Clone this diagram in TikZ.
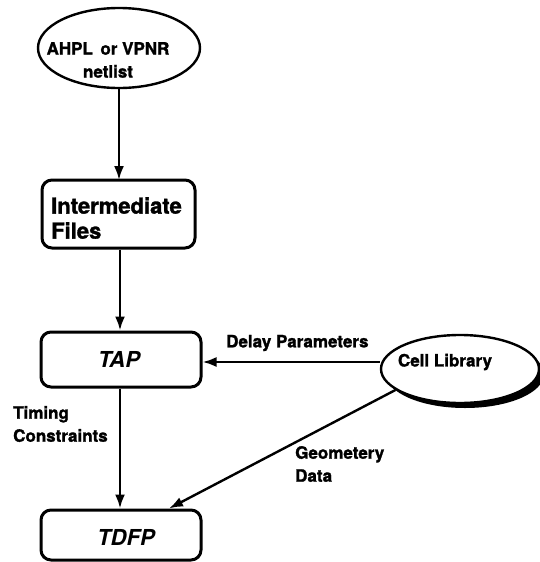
\documentclass[tikz,border=0pt]{standalone}
\usepackage{fontspec}
\setmainfont{TeX Gyre Heros}[BoldFeatures={FakeBold=1.5}]
\usetikzlibrary{arrows.meta, positioning, shapes.geometric, shadows}

\tikzset{
    box/.style={draw, line width=3pt, rounded corners=10pt, minimum width=160pt, minimum height=55pt},
    oval/.style={draw, ellipse, line width=2.4pt},
    flow/.style={line width=2.4pt, -{Latex[length=14pt, width=10pt]}},
    lbl/.style={font=\bfseries\fontsize{17}{23}\selectfont, inner sep=0pt, align=left},
    big/.style={font=\bfseries\fontsize{22}{25}\selectfont, inner sep=0pt, align=left}
}

\begin{document}
\begin{tikzpicture}[x=1pt, y=-1pt]
    \useasboundingbox (0,0) rectangle (540,562);

    % ---------------------------------------------------------------
    % nodes
    % ---------------------------------------------------------------
    \node[oval, minimum width=162pt, minimum height=80pt] (netlist) at (119,48) {};
    \node[lbl, align=center] (netlisttxt) at (108,60) {AHPL\, or VPNR\\netlist};

    \node[box, minimum width=153pt, minimum height=68pt] (inter) at (118.5,214) {};
    \node[big, anchor=west] (intertxt) at (51,218) {Intermediate\\Files};

    \node[box] (tap) at (121,359.5) {};
    \node[big] (taptxt) at (119,359) {\itshape TAP};

    \node[box, minimum height=50pt] (tdfp) at (121,535) {};
    \node[big] (tdfptxt) at (126,537) {\itshape TDFP};

    \node[oval, minimum width=158pt, minimum height=68pt, fill=white,
          drop shadow={shadow xshift=5pt, shadow yshift=-5pt, fill=black, opacity=1}]
          (cell) at (460,369) {};
    \node[lbl] (celltxt) at (445,362) {Cell Library};

    % ---------------------------------------------------------------
    % connectors
    % ---------------------------------------------------------------
    \draw[flow] (netlist.south -| 119,0) -- (119,180);
    \draw[flow] (inter.south -| 120,0) -- (tap.north -| 120,0);
    \draw[flow] (tap.south -| 120,0) -- (tdfp.north -| 120,0);
    \draw[flow] (cell.west |- 0,362) -- (tap.east |- 0,362);
    \draw[flow] (cell.-162) -- (tdfp.north -| 169,0);

    % ---------------------------------------------------------------
    % labels
    % ---------------------------------------------------------------
    \node[lbl, anchor=west] (delay) at (226,343) {Delay Parameters};
    \node[lbl, anchor=west] (timing) at (13,424) {Timing\\Constraints};
    \node[lbl, anchor=west] (geom) at (295,464) {Geometery\\Data};

\end{tikzpicture}
\end{document}
